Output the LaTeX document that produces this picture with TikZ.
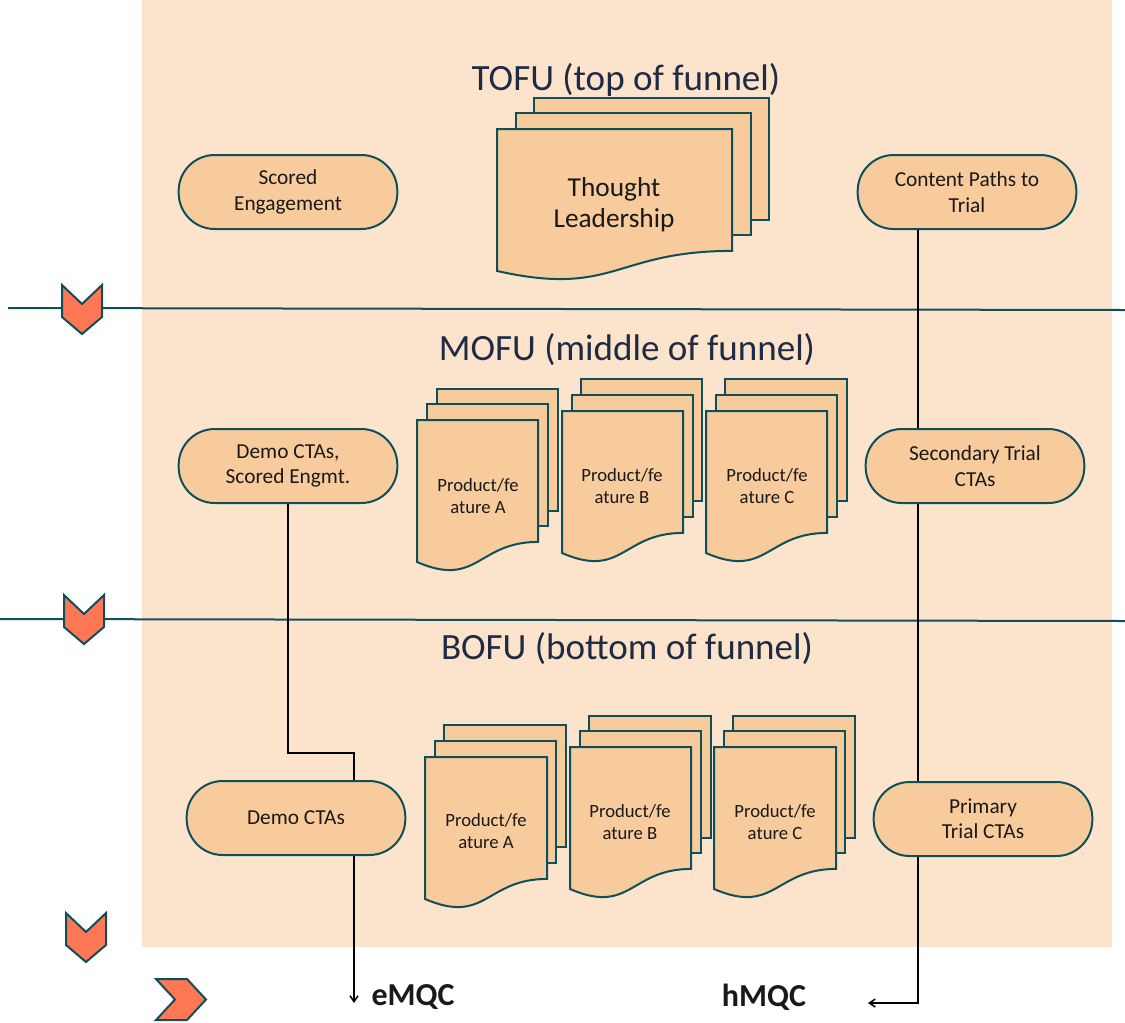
\documentclass[tikz,border=0pt]{standalone}
\usepackage{fontspec}
\setmainfont{Carlito}
\usetikzlibrary{arrows.meta,calc}
\definecolor{bgpeach}{HTML}{FCE4CC}
\definecolor{nodefill}{HTML}{F8CB9C}
\definecolor{tealline}{HTML}{0F4F5A}
\definecolor{coral}{HTML}{FF7755}
\definecolor{navy}{HTML}{1F2A44}
\pgfdeclarelayer{bg}\pgfdeclarelayer{lines}\pgfsetlayers{bg,lines,main}
% back sheet: x y w h
\newcommand\backsheet[4]{\filldraw[docsty] (#1,#2) rectangle ++(#3,{0.802*#4});}
% front document: x y w h
\newcommand\frontdoc[4]{\filldraw[docsty] (#1,#2) -- ++(#3,0) -- ++(0,{0.802*#4}) .. controls +({-0.5*#3},0) and +({0.5*#3},{0.1735*#4}) .. ({#1},{#2+0.934*#4}) -- cycle;}
% down chevron: cx top
\newcommand\downchev[2]{\filldraw[chev] ({#1-20},#2) -- ({#1},{#2+19}) -- ({#1+20},#2) -- ({#1+20},{#2+32}) -- ({#1},{#2+49}) -- ({#1-20},{#2+32}) -- cycle;}
\tikzset{
  pill/.style={draw=tealline, fill=nodefill, line width=1.5pt, rounded corners=27pt,
    minimum width=164pt, minimum height=55.5pt, align=center, inner sep=0pt,
    font=\fontsize{16}{19}\selectfont, text=black!90},
  docsty/.style={draw=tealline, fill=nodefill, line width=1.5pt},
  doctext/.style={align=center, inner sep=0pt, font=\fontsize{14}{16.5}\selectfont, text=black!90},
  bigdoctext/.style={align=center, inner sep=0pt, font=\fontsize{20.5}{23.5}\selectfont, text=black!90},
  stagetitle/.style={font=\fontsize{27.8}{33}\selectfont, text=navy, anchor=base, inner sep=0pt},
  conn/.style={draw=black, line width=1.4pt},
  arr/.style={line width=1.1pt, -{Straight Barb[length=4.5pt,width=6pt]}},
  divider/.style={draw=tealline, line width=1.5pt},
  chev/.style={fill=coral, draw=tealline, line width=1.5pt, line join=miter},
  mqc/.style={font=\bfseries\fontsize{24}{28}\selectfont, text=black!90, inner sep=0pt}
}
\begin{document}
\begin{tikzpicture}[x=0.75pt,y=-0.75pt]
\useasboundingbox (0,0) rectangle (1125,1022);
\begin{pgfonlayer}{bg}
\fill[bgpeach] (142,0) rectangle (1112,947);
\end{pgfonlayer}

% titles
\node[stagetitle] (tofu) at (626,90) {TOFU (top of funnel)};
\node[stagetitle] (mofu) at (627,360) {MOFU (middle of funnel)};
\node[stagetitle] (bofu) at (627,659) {BOFU (bottom of funnel)};

% Thought leadership stack
\backsheet{534}{98}{235}{152}
\backsheet{516}{113}{235}{152}
\frontdoc{497}{129}{235}{152}
\node[bigdoctext] (tl) at (614,205) {Thought\\Leadership};

% MOFU stacks
\backsheet{437}{389}{121}{152}
\backsheet{427}{404}{121}{152}
\frontdoc{417}{420}{121}{152}
\node[doctext] (ma) at (478,496) {Product/fe\\ature A};
\backsheet{581}{379}{121}{152}
\backsheet{572}{395}{121}{152}
\frontdoc{562}{411}{121}{152}
\node[doctext] (mb) at (622,486) {Product/fe\\ature B};
\backsheet{725}{379}{122}{152}
\backsheet{716}{395}{121}{152}
\frontdoc{706}{411}{121}{152}
\node[doctext] (mc) at (767,486) {Product/fe\\ature C};

% BOFU stacks
\backsheet{444}{725}{122}{152}
\backsheet{435}{741}{121}{152}
\frontdoc{425}{757}{122}{152}
\node[doctext] (ba) at (486,831) {Product/fe\\ature A};
\backsheet{589}{716}{122}{152}
\backsheet{580}{731}{121}{152}
\frontdoc{570}{747}{121}{152}
\node[doctext] (bb) at (630,822) {Product/fe\\ature B};
\backsheet{733}{716}{122}{152}
\backsheet{724}{731}{121}{152}
\frontdoc{714}{747}{122}{152}
\node[doctext] (bc) at (775,822) {Product/fe\\ature C};

% pills
\node[pill] (se) at (288,192) {Scored\\Engagement};
\node[pill] (cp) at (967,192) {Content Paths to\\Trial};
\node[pill] (dse) at (288,466) {Demo CTAs,\\Scored Engmt.};
\node[pill] (sec) at (975,466) {Secondary Trial\\CTAs};
\node[pill] (demo) at (296,818) {Demo CTAs};
\node[pill] (prim) at (983,819) {Primary\\Trial CTAs};

% outcome labels
\node[mqc] (emqc) at (413,997) {eMQC};
\node[mqc] (hmqc) at (764,997) {hMQC};

% coordinates
\coordinate (xr) at (918,0);
\coordinate (hend) at (868,1003);
\coordinate (bend) at (288,753);
\coordinate (eend) at (354,1003);
\coordinate (d1a) at (8,308);
\coordinate (d1b) at (1125,310);
\coordinate (d2a) at (0,619);
\coordinate (d2b) at (1125,621);

\begin{pgfonlayer}{lines}
\draw[divider] (d1a) -- (d1b);
\draw[divider] (d2a) -- (d2b);
\draw[conn] (cp.south -| xr) -- (prim.south -| xr);
\draw[conn,arr] (prim.south -| xr) |- (hend);
\draw[conn] (dse.south) -- (bend) -| (demo.south -| eend);
\draw[conn,arr] (demo.south -| eend) -- (eend);
\end{pgfonlayer}

% chevrons
\downchev{82}{285}
\downchev{84}{595}
\downchev{86}{913}
\filldraw[chev] (156,979) -- (187,979) -- (206,999.5) -- (187,1020) -- (156,1020) -- (175,999.5) -- cycle;
\end{tikzpicture}
\end{document}
